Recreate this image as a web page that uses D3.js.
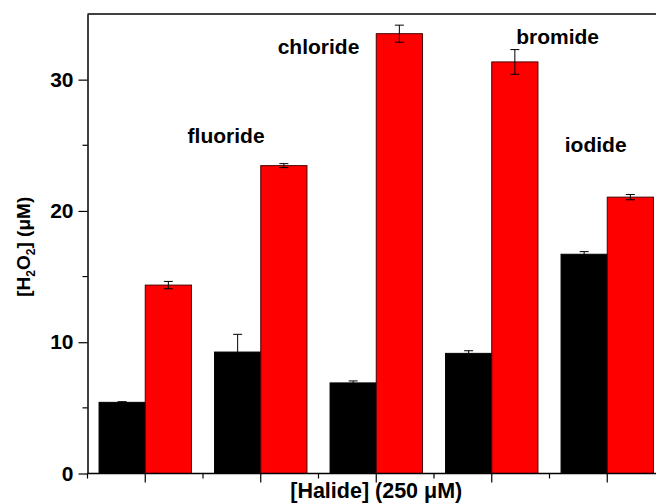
<!DOCTYPE html>
<html>
<head>
<meta charset="utf-8">
<script src="https://cdn.jsdelivr.net/npm/d3@7"></script>
<style>
  body { margin: 0; background: #fff; }
  svg { display: block; font-family: "Liberation Sans", Arial, sans-serif; font-weight: bold; }
</style>
</head>
<body>
<div id="chart"></div>
<script>
// data
const groups = ["control", "fluoride", "chloride", "bromide", "iodide"];
const groupLabels = ["", "fluoride", "chloride", "bromide", "iodide"];
const blackValues = [5.42, 9.25, 6.9, 9.15, 16.7];
const blackErrors = [0.05, 1.35, 0.15, 0.2, 0.2];
const redValues = [14.35, 23.45, 33.5, 31.35, 21.05];
const redErrors = [0.28, 0.15, 0.65, 0.94, 0.2];
const yTicks = [0, 10, 20, 30];
const yMinorTicks = [5, 15, 25];

const width = 656, height = 503;
const plotLeft = 87.5, plotRight = 665, plotTop = 14, plotBottom = 473.5;

const svg = d3.select("#chart").append("svg")
  .attr("width", width).attr("height", height);

const x0 = d3.scaleBand().domain(groups).range([plotLeft, plotRight]);
const x1 = d3.scaleBand().domain(["black", "red"])
  .range([x0.step() * 0.1, x0.step() * 0.9]);
const y = d3.scaleLinear().domain([0, 35]).range([plotBottom, plotTop]);

const rows = groups.map((g, i) => ({
  g, label: groupLabels[i],
  bars: [
    { key: "black", v: blackValues[i], e: blackErrors[i] },
    { key: "red", v: redValues[i], e: redErrors[i] }
  ]
}));

const gg = svg.selectAll(".grp").data(rows).enter().append("g")
  .attr("class", "grp")
  .attr("transform", d => `translate(${x0(d.g)},0)`);

gg.selectAll("rect").data(d => d.bars).enter().append("rect")
  .attr("x", d => x1(d.key))
  .attr("width", x1.bandwidth())
  .attr("y", d => y(d.v))
  .attr("height", d => y(0) - y(d.v))
  .attr("fill", d => d.key === "red" ? "#ff0000" : "#000")
  .attr("stroke", d => d.key === "red" ? "#4a0000" : "#000")
  .attr("stroke-width", 1);

// error bars
const eb = gg.selectAll(".err").data(d => d.bars).enter().append("g").attr("class", "err");
eb.append("line")
  .attr("x1", d => x1(d.key) + x1.bandwidth() / 2)
  .attr("x2", d => x1(d.key) + x1.bandwidth() / 2)
  .attr("y1", d => y(d.v + d.e)).attr("y2", d => y(d.v - d.e))
  .attr("stroke", "#000").attr("stroke-width", 1);
eb.selectAll(".cap").data(d => [d.v + d.e, d.v - d.e].map(v => ({ key: d.key, v })))
  .enter().append("line")
  .attr("x1", d => x1(d.key) + x1.bandwidth() / 2 - 4.5)
  .attr("x2", d => x1(d.key) + x1.bandwidth() / 2 + 4.5)
  .attr("y1", d => y(d.v)).attr("y2", d => y(d.v))
  .attr("stroke", "#000").attr("stroke-width", 1);

// halide labels (offset in band widths from the band start)
const labelY = [0, 143, 54, 44, 152];
const labelDx = [0, 0.2, 0.0, 1.07, 0.4];
gg.filter(d => d.label).append("text")
  .attr("x", d => x0.bandwidth() * labelDx[groups.indexOf(d.g)])
  .attr("y", d => labelY[groups.indexOf(d.g)])
  .attr("text-anchor", "middle")
  .attr("font-size", 21)
  .text(d => d.label);

// frame
svg.append("line").attr("x1", plotLeft).attr("x2", plotRight).attr("y1", plotTop).attr("y2", plotTop)
  .attr("stroke", "#000").attr("stroke-width", 1.5);
svg.append("line").attr("x1", plotRight).attr("x2", plotRight).attr("y1", plotTop).attr("y2", plotBottom)
  .attr("stroke", "#000").attr("stroke-width", 1.5);

// y axis
const yAxis = d3.axisLeft(y).tickValues(yTicks).tickSize(9).tickPadding(5).tickSizeOuter(0);
const ya = svg.append("g").attr("transform", `translate(${plotLeft},0)`).call(yAxis);
ya.select(".domain").attr("stroke-width", 1.5);
ya.selectAll(".tick line").attr("stroke-width", 1.2);
ya.selectAll(".tick text").attr("font-size", 21).attr("font-weight", "bold")
  .attr("font-family", "Liberation Sans, Arial, sans-serif").attr("fill", "#000");
ya.selectAll(".minor").data(yMinorTicks).enter().append("line").attr("class", "minor")
  .attr("x1", 0).attr("x2", -5).attr("y1", d => y(d)).attr("y2", d => y(d))
  .attr("stroke", "#000").attr("stroke-width", 1.2);

// x axis: major ticks at group centres, minor at band edges
const xa = svg.append("g").attr("transform", `translate(0,${plotBottom})`);
xa.append("line").attr("x1", plotLeft).attr("x2", plotRight).attr("stroke", "#000").attr("stroke-width", 1.5);
xa.selectAll(".major").data(groups).enter().append("line")
  .attr("x1", d => x0(d) + x0.bandwidth() / 2).attr("x2", d => x0(d) + x0.bandwidth() / 2)
  .attr("y1", 0).attr("y2", 9).attr("stroke", "#000").attr("stroke-width", 1.2);
xa.selectAll(".minorx").data(groups).enter().append("line")
  .attr("x1", d => x0(d)).attr("x2", d => x0(d))
  .attr("y1", 0).attr("y2", 5).attr("stroke", "#000").attr("stroke-width", 1.2);

// axis titles
svg.append("text")
  .attr("x", x0("chloride") + x0.bandwidth() / 2).attr("y", 498)
  .attr("text-anchor", "middle").attr("font-size", 21.5)
  .text("[Halide] (250 μM)");

const yt = svg.append("text")
  .attr("transform", `translate(30,${(plotTop + plotBottom) / 2 + 3}) rotate(-90)`)
  .attr("text-anchor", "middle").attr("font-size", 19);
yt.append("tspan").text("[H");
yt.append("tspan").attr("font-size", 12).attr("dy", 5).text("2");
yt.append("tspan").attr("dy", -5).text("O");
yt.append("tspan").attr("font-size", 12).attr("dy", 5).text("2");
yt.append("tspan").attr("dy", -5).text("] (μM)");
</script>
</body>
</html>
